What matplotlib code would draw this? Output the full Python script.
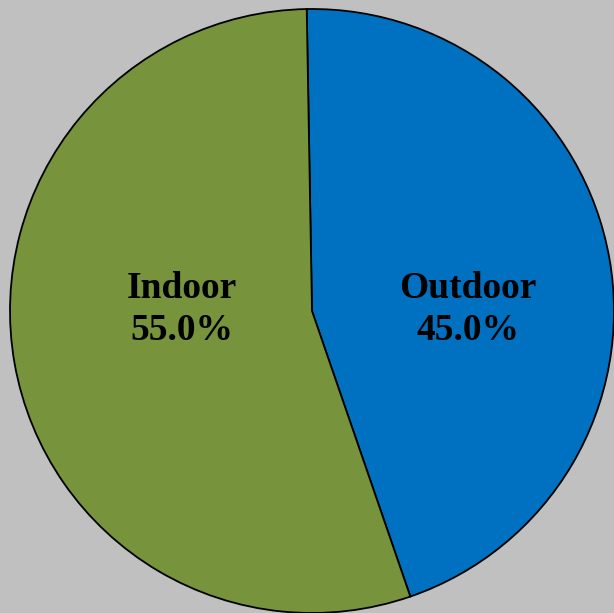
import matplotlib.pyplot as plt

categories = ["Outdoor", "Indoor"]
shares = [45.0, 55.0]
colors = ["#0070C0", "#77933C"]
# where the labels sit inside each slice (radius units)
label_pos = [(0.517, 0.005), (-0.43, 0.005)]

fig = plt.figure(figsize=(6.14, 6.13), dpi=100, facecolor="#C0C0C0")
ax = fig.add_axes([0, 0, 1, 1])
ax.set_facecolor("#C0C0C0")

wedges, texts, autotexts = ax.pie(
    shares, colors=colors, startangle=91, counterclock=False,
    autopct="%1.1f%%",
    wedgeprops=dict(edgecolor="black", linewidth=1.3),
)

for i, t in enumerate(autotexts):
    t.set_text(categories[i] + "\n" + t.get_text())
    t.set_position(label_pos[i])
    t.set_fontfamily("Liberation Serif")
    t.set_fontweight("bold")
    t.set_fontsize(27)
    t.set_linespacing(1.28)
    t.set_ha("center")
    t.set_va("center")

r = 302.0
ax.set_xlim(-312 / r, (614 - 312) / r)
ax.set_ylim(-(613 - 311) / r, 311 / r)
ax.set_aspect("auto")
ax.axis("off")

fig.savefig("out.png", dpi=100, facecolor="#C0C0C0")
